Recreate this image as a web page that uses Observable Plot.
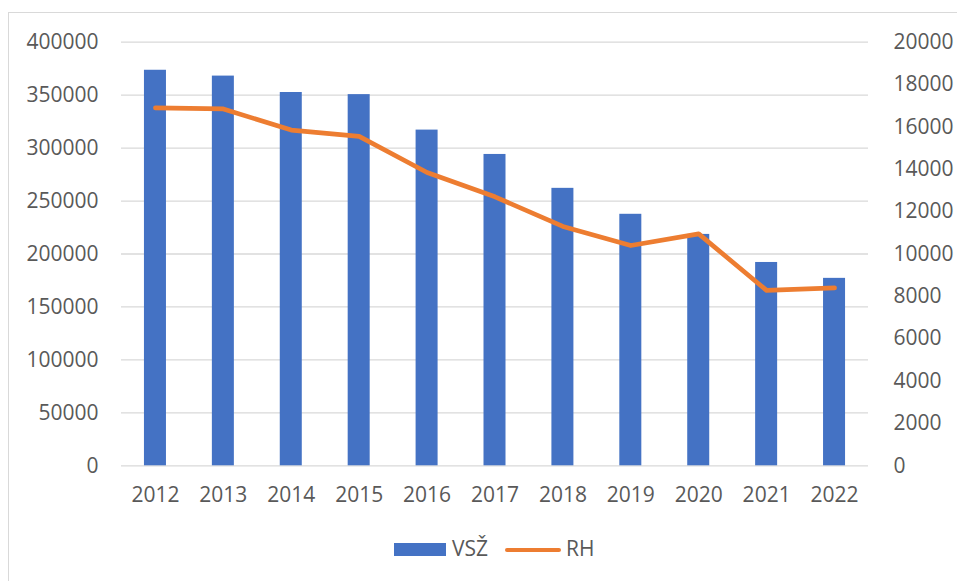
<!DOCTYPE html>
<html>
<head>
<meta charset="utf-8">
<script src="https://cdn.jsdelivr.net/npm/d3@7"></script>
<script src="https://cdn.jsdelivr.net/npm/@observablehq/plot@0.6"></script>
<style>
  html, body { margin: 0; padding: 0; background: #fff; }
  #wrap { position: relative; width: 957px; height: 581px; overflow: hidden; font-family: "Open Sans", sans-serif; }
  #border { position: absolute; left: 8px; top: 12px; width: 980px; height: 600px; border: 1px solid #d9d9d9; box-sizing: border-box; pointer-events: none; }
  .leg { position: absolute; font-size: 21px; line-height: 21px; color: #595959; white-space: nowrap; }
</style>
</head>
<body>
<div id="wrap">
  <div id="chart"></div>
  <div id="border"></div>
  <div id="legend"></div>
</div>
<script>
const years = ["2012","2013","2014","2015","2016","2017","2018","2019","2020","2021","2022"];
const vsz = [373500, 368000, 352500, 350500, 317000, 294000, 262000, 237500, 218500, 192000, 177000];
const rh = [16900, 16850, 15850, 15550, 13850, 12700, 11300, 10400, 10950, 8280, 8400];
const leftTicks = [0, 50000, 100000, 150000, 200000, 250000, 300000, 350000, 400000];
const rightTicks = [0, 2000, 4000, 6000, 8000, 10000, 12000, 14000, 16000, 18000, 20000];
const seriesNames = ["VSŽ", "RH"];
const colors = ["#4472C4", "#ED7D31"];

const ratio = 400000 / 20000;
const data = years.map((y, i) => ({year: y, vsz: vsz[i], rh: rh[i]}));

const chart = Plot.plot({
  width: 957,
  height: 581,
  marginLeft: 121,
  marginRight: 89,
  marginTop: 41.7,
  marginBottom: 115.7,
  x: {type: "band", domain: years, paddingInner: 0.676, paddingOuter: 0.338, round: false, label: null},
  y: {domain: [0, 400000], label: null},
  style: {fontFamily: "'Open Sans', sans-serif", fontSize: "21px", color: "#595959", background: "white", overflow: "visible"},
  marks: [
    Plot.gridY(leftTicks, {stroke: "#d9d9d9", strokeOpacity: 1, strokeWidth: 1.3}),
    Plot.barY(data, {x: "year", y: "vsz", fill: colors[0]}),
    Plot.line(data, {x: "year", y: d => d.rh * ratio, stroke: colors[1], strokeWidth: 4.7, strokeLinecap: "round", strokeLinejoin: "round"}),
    Plot.axisY(leftTicks, {anchor: "left", tickSize: 0, tickPadding: 23, tickFormat: d => String(d), label: null}),
    Plot.axisY(rightTicks.map(v => v * ratio), {anchor: "right", tickSize: 0, tickPadding: 25, tickFormat: d => String(Math.round(d / ratio)), label: null}),
    Plot.axisX({tickSize: 0, tickPadding: 21, label: null})
  ]
});
document.getElementById("chart").appendChild(chart);

const legend = document.getElementById("legend");
legend.innerHTML = `
  <div style="position:absolute;left:394px;top:543px;width:52px;height:13px;background:${colors[0]}"></div>
  <div class="leg" style="left:452px;top:538px">${seriesNames[0]}</div>
  <div style="position:absolute;left:505px;top:547.7px;width:56px;height:4.7px;border-radius:3px;background:${colors[1]}"></div>
  <div class="leg" style="left:566px;top:538px">${seriesNames[1]}</div>
`;
</script>
</body>
</html>
